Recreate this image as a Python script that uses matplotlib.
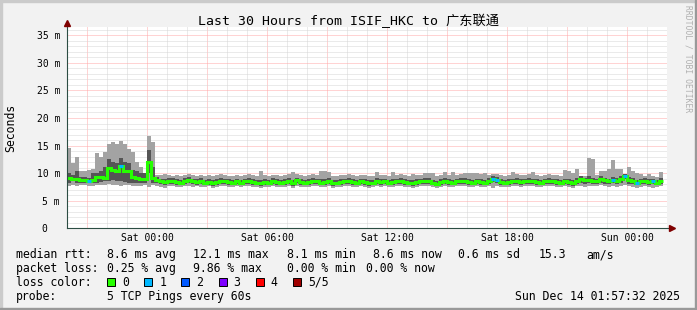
import numpy as np
import matplotlib
matplotlib.use('Agg')
import matplotlib.pyplot as plt
from matplotlib.patches import Rectangle

plt.rcParams['font.family'] = ['DejaVu Sans Mono', 'Noto Sans CJK SC']

W, H = 697, 310

# smokeping data, one value per 12 min step starting Fri 20:00 (ms)
median = [9.1, 9.0, 8.9, 8.8, 8.8, 8.5, 8.7, 9.3, 9.3, 9.2, 11.0, 10.6, 10.3, 11.3, 10.3, 10.3, 9.3, 9.1, 8.9, 8.9, 12.1, 9.1,
          8.8, 8.5, 8.4, 8.5, 8.6, 8.4, 8.3, 8.6, 8.7, 8.5, 8.4, 8.5, 8.3, 8.4, 8.2, 8.4, 8.6, 8.5, 8.4, 8.3,
          8.5, 8.3, 8.5, 8.6, 8.4, 8.3, 8.2, 8.4, 8.3, 8.5, 8.4, 8.3, 8.4, 8.5, 8.2, 8.7, 8.4, 8.3, 8.4, 8.6,
          8.5, 8.3, 8.4, 8.5, 8.2, 8.3, 8.4, 8.5, 8.6, 8.4, 8.3, 8.5, 8.4, 8.2, 8.3, 8.6, 8.4, 8.5, 8.3, 8.4,
          8.5, 8.6, 8.4, 8.3, 8.2, 8.4, 8.5, 8.6, 8.5, 8.3, 8.1, 8.4, 8.5, 8.4, 8.3, 8.5, 8.6, 8.5, 8.4, 8.3,
          8.5, 8.4, 8.3, 8.5, 9.0, 8.7, 8.4, 8.3, 8.4, 8.5, 8.6, 8.4, 8.5, 8.6, 8.5, 8.4, 8.3, 8.5, 8.6, 8.5,
          8.4, 8.3, 8.5, 8.4, 8.2, 8.6, 8.9, 8.7, 8.8, 8.6, 8.5, 8.9, 8.7, 8.5, 8.8, 8.6, 8.9, 9.4, 8.7, 8.6,
          8.3, 8.5, 8.6, 8.4, 8.5, 8.3, 8.6]

# outer smoke (min / max ping)
ping_max = [14.5, 11.8, 12.9, 10.3, 10.3, 10.6, 10.8, 13.6, 13.0, 13.9, 15.2, 15.6, 15.2, 15.9, 15.2, 14.4, 13.9, 12.1, 11.2, 10.0, 16.7, 15.6,
            9.7, 9.6, 9.8, 9.6, 9.5, 9.7, 9.4, 9.6, 9.9, 9.6, 9.5, 9.7, 9.4, 9.6, 9.5, 9.6, 9.8, 9.7, 9.5, 9.4,
            9.6, 9.5, 9.7, 9.9, 9.6, 9.5, 10.3, 9.6, 9.4, 9.7, 9.6, 9.5, 9.6, 9.8, 10.2, 9.9, 9.6, 9.5, 9.6, 9.8,
            9.7, 10.3, 10.3, 10.2, 9.4, 9.5, 9.6, 9.7, 9.8, 9.6, 9.5, 9.7, 9.6, 9.4, 9.5, 10.2, 9.6, 9.7, 9.5, 10.2,
            9.7, 9.9, 9.6, 9.5, 9.9, 9.6, 9.7, 10.0, 10.1, 10.1, 9.4, 9.6, 10.2, 9.6, 10.2, 9.7, 9.8, 10.0, 10.0, 10.0,
            10.0, 9.9, 10.0, 9.7, 9.9, 9.8, 9.6, 9.5, 9.6, 10.2, 9.8, 9.6, 9.7, 9.8, 10.2, 9.7, 9.5, 9.7, 9.8, 9.7,
            9.6, 9.5, 10.6, 10.4, 10.1, 10.8, 9.5, 9.5, 12.8, 12.6, 9.6, 10.4, 10.3, 10.8, 12.4, 10.8, 10.8, 9.7, 11.2, 10.3,
            10.0, 9.8, 9.5, 9.8, 9.4, 9.3, 10.2]
ping_min = [7.7, 7.8, 7.6, 7.9, 7.8, 7.7, 7.6, 7.8, 7.9, 7.8, 8.0, 7.8, 7.9, 7.6, 7.9, 7.8, 7.7, 7.6, 7.7, 7.8, 7.4, 7.9,
            7.6, 7.5, 7.3, 7.6, 7.7, 7.5, 7.4, 7.7, 7.6, 7.5, 7.6, 7.4, 7.5, 7.6, 7.3, 7.5, 7.7, 7.6, 7.5, 7.4,
            7.6, 7.4, 7.6, 7.7, 7.5, 7.4, 7.3, 7.5, 7.4, 7.6, 7.5, 7.4, 7.5, 7.6, 7.3, 7.7, 7.5, 7.4, 7.5, 7.7,
            7.6, 7.4, 7.5, 7.6, 7.3, 7.4, 7.5, 7.6, 7.7, 7.5, 7.4, 7.6, 7.5, 7.3, 7.4, 7.7, 7.5, 7.6, 7.4, 7.5,
            7.6, 7.7, 7.5, 7.4, 7.3, 7.5, 7.6, 7.7, 7.6, 7.4, 7.3, 7.5, 7.6, 7.5, 7.4, 7.6, 7.7, 7.6, 7.5, 7.4,
            7.6, 7.5, 7.4, 7.6, 7.3, 7.7, 7.5, 7.4, 7.5, 7.6, 7.7, 7.5, 7.6, 7.7, 7.6, 7.5, 7.4, 7.6, 7.7, 7.6,
            7.5, 7.4, 7.6, 7.5, 7.3, 7.7, 7.6, 7.5, 7.7, 7.6, 7.6, 7.8, 7.6, 7.5, 7.6, 7.5, 7.7, 7.8, 7.6, 7.5,
            7.3, 7.5, 7.6, 7.4, 7.3, 7.4, 7.6]

# inner smoke (2nd and 4th ping)
ping_hi = [10.1, 9.7, 10.3, 9.3, 9.3, 9.2, 10.0, 10.0, 10.3, 11.2, 12.5, 12.1, 11.8, 12.7, 12.1, 11.8, 10.6, 10.3, 10.0, 10.0, 14.2, 11.2,
           9.3, 9.0, 8.9, 9.1, 9.2, 8.9, 8.8, 9.1, 9.3, 9.0, 8.9, 9.1, 8.8, 8.9, 8.7, 8.9, 9.2, 9.0, 8.9, 8.8,
           9.0, 8.8, 9.0, 9.2, 8.9, 8.8, 8.8, 8.9, 8.8, 9.1, 8.9, 8.8, 8.9, 9.1, 8.8, 9.2, 8.9, 8.8, 8.9, 9.2,
           9.0, 8.9, 9.0, 9.1, 8.7, 8.8, 8.9, 9.0, 9.2, 8.9, 8.8, 9.0, 8.9, 8.7, 8.8, 9.2, 8.9, 9.0, 8.8, 8.9,
           9.0, 9.2, 8.9, 8.8, 8.8, 8.9, 9.0, 9.2, 9.1, 8.8, 8.6, 8.9, 9.1, 8.9, 8.8, 9.0, 9.2, 9.1, 8.9, 8.8,
           9.0, 8.9, 8.8, 9.1, 9.5, 9.3, 8.9, 8.8, 8.9, 9.0, 9.2, 8.9, 9.0, 9.2, 9.0, 8.9, 8.8, 9.0, 9.2, 9.0,
           8.9, 8.8, 9.0, 8.9, 8.8, 9.2, 9.4, 9.2, 9.4, 9.2, 9.0, 9.4, 9.2, 9.0, 9.3, 9.1, 9.4, 9.8, 9.3, 9.1,
           8.8, 9.0, 9.1, 8.9, 9.0, 8.8, 9.1]
ping_lo = [8.2, 8.5, 8.3, 8.3, 8.3, 8.2, 8.2, 8.2, 8.4, 8.5, 8.6, 8.8, 8.6, 8.5, 8.4, 8.3, 8.3, 8.2, 8.2, 8.3, 10.0, 8.2,
           8.2, 8.0, 7.9, 8.0, 8.1, 7.9, 7.8, 8.1, 8.2, 8.0, 7.9, 8.0, 7.8, 7.9, 7.7, 7.9, 8.1, 8.0, 7.9, 7.8,
           8.0, 7.8, 8.0, 8.1, 7.9, 7.8, 7.7, 7.9, 7.8, 8.0, 7.9, 7.8, 7.9, 8.0, 7.7, 8.2, 7.9, 7.8, 7.9, 8.1,
           8.0, 7.8, 7.9, 8.0, 7.7, 7.8, 7.9, 8.0, 8.1, 7.9, 7.8, 8.0, 7.9, 7.7, 7.8, 8.1, 7.9, 8.0, 7.8, 7.9,
           8.0, 8.1, 7.9, 7.8, 7.7, 7.9, 8.0, 8.1, 8.0, 7.8, 7.6, 7.9, 8.0, 7.9, 7.8, 8.0, 8.1, 8.0, 7.9, 7.8,
           8.0, 7.9, 7.8, 8.0, 8.4, 8.2, 7.9, 7.8, 7.9, 8.0, 8.1, 7.9, 8.0, 8.1, 8.0, 7.9, 7.8, 8.0, 8.1, 8.0,
           7.9, 7.8, 8.0, 7.9, 7.7, 8.1, 8.3, 8.1, 8.2, 8.1, 8.0, 8.3, 8.1, 8.0, 8.2, 8.0, 8.3, 8.9, 8.1, 8.0,
           7.8, 8.0, 8.1, 7.9, 8.0, 7.8, 8.1]

# lost pings per step (only nonzero ones)
loss_steps = {5: 1, 13: 1, 106: 1, 107: 1, 136: 1, 139: 1, 142: 1, 146: 1}

loss_labels = ['0', '1', '2', '3', '4', '5/5']
loss_colors = ['#26ff00', '#00b8ff', '#0059ff', '#7e00ff', '#ff0000', '#a00000']

xtick_hours = [4, 10, 16, 22, 28]
xtick_labels = ['Sat 00:00', 'Sat 06:00', 'Sat 12:00', 'Sat 18:00', 'Sun 00:00']
ytick_vals = [0, 5, 10, 15, 20, 25, 30, 35]
ytick_labels = ['0  ', '5 m', '10 m', '15 m', '20 m', '25 m', '30 m', '35 m']

title = 'Last 30 Hours from ISIF_HKC to 广东联通'
stats = [
    [('median rtt:', 16), ('8.6 ms avg', 107.3), ('12.1 ms max', 193.3), ('8.1 ms min', 286.7),
     ('8.6 ms now', 372.7), ('0.6 ms sd', 458.3), ('15.3', 539), ('am/s', 586.7)],
    [('packet loss:', 16), ('0.25 % avg', 107.3), ('9.86 % max', 193.3), ('0.00 % min', 286.7),
     ('0.00 % now', 366)],
]


def fx(x):
    return x / W


def fy(y):
    return 1 - y / H


edges = np.arange(len(median) + 1) * 0.2

fig = plt.figure(figsize=(W / 100, H / 100), dpi=100, facecolor='#f2f2f2')
ax = fig.add_axes([fx(67), fy(228.3), 600 / W, 201.3 / H])
ax.set_facecolor('white')
ax.set_xlim(0, 30)
ax.set_ylim(0, 36.5)

# grid
for h in range(1, 31):
    major = (h - 1) % 3 == 0
    ax.axvline(h, color='#ffa8a8' if major else '#d6d6d6', lw=0.72,
               ls=(0, (1, 1)), zorder=1)
for v in range(1, 37):
    major = v % 5 == 0
    ax.axhline(v, color='#ffa8a8' if major else '#d6d6d6', lw=0.72,
               ls=(0, (1, 1)), zorder=1)

# smoke
ax.stairs(ping_max, edges, baseline=ping_min, fill=True, color='#a3a3a3', zorder=2)
ax.stairs(ping_hi, edges, baseline=ping_lo, fill=True, color='#555555', zorder=3)

# median coloured by loss
ax.stairs(median, edges, baseline=None, color=loss_colors[0], lw=2.2, zorder=4)
for i, n in loss_steps.items():
    ax.hlines(median[i], edges[i], edges[i + 1], color=loss_colors[n], lw=2.2, zorder=5)

for s in ax.spines.values():
    s.set_visible(False)
ax.plot([0, 0], [0, 1.02], transform=ax.transAxes, color='#2c4d43', lw=0.8,
        clip_on=False, zorder=6)
ax.plot([0, 1.006], [0, 0], transform=ax.transAxes, color='#2c4d43', lw=0.8,
        clip_on=False, zorder=6)
ax.plot([0], [1.022], transform=ax.transAxes, marker='^', ms=4, color='#7f0000',
        clip_on=False, zorder=7)
ax.plot([1.008], [0], transform=ax.transAxes, marker='>', ms=4, color='#7f0000',
        clip_on=False, zorder=7)

ax.set_xticks(xtick_hours, xtick_labels)
ax.set_yticks(ytick_vals, ytick_labels)
ax.tick_params(axis='x', length=0, pad=3.5, labelsize=7)
ax.tick_params(axis='y', length=0, pad=5, labelsize=7)

fig.text(fx(348), fy(21), title, ha='center', va='center', size=9.5)
fig.text(fx(11), fy(127.5), 'Seconds', rotation=90, ha='center', va='center', size=8.3)
fig.text(fx(688), fy(5), 'RRDTOOL / TOBI OETIKER', rotation=270, ha='center', va='top',
         size=5.8, color='#b0b0b0')

# legend
for row, y in zip(stats, [254.5, 268.5]):
    for txt, x in row:
        fig.text(fx(x), fy(y), txt, ha='left', va='center', size=8.3)

fig.text(fx(16), fy(282), 'loss color:', ha='left', va='center', size=8.3)
for k, (lab, col) in enumerate(zip(loss_labels, loss_colors)):
    x0 = 107.3 + k * 37.1
    fig.patches.append(Rectangle((fx(x0), fy(285.5)), 8 / W, 8 / H, transform=fig.transFigure,
                                 facecolor=col, edgecolor='black', lw=0.7))
    fig.text(fx(x0 + 15), fy(282), lab, ha='left', va='center', size=8.3)

fig.text(fx(16), fy(296.5), 'probe:', ha='left', va='center', size=8.3)
fig.text(fx(107.3), fy(296.5), '5 TCP Pings every 60s', ha='left', va='center', size=8.3)
fig.text(fx(680), fy(296.5), 'Sun Dec 14 01:57:32 2025', ha='right', va='center', size=8.3)

# frame
fig.patches.append(Rectangle((0, fy(2)), 1, 2 / H, transform=fig.transFigure, color='#cbcbcb'))
fig.patches.append(Rectangle((0, 0), 2 / W, 1, transform=fig.transFigure, color='#cbcbcb'))
fig.patches.append(Rectangle((0, 0), 1, 2 / H, transform=fig.transFigure, color='#999999'))
fig.patches.append(Rectangle((1 - 2 / W, 0), 2 / W, 1, transform=fig.transFigure, color='#999999'))

fig.savefig('out.png', dpi=100, facecolor=fig.get_facecolor())
